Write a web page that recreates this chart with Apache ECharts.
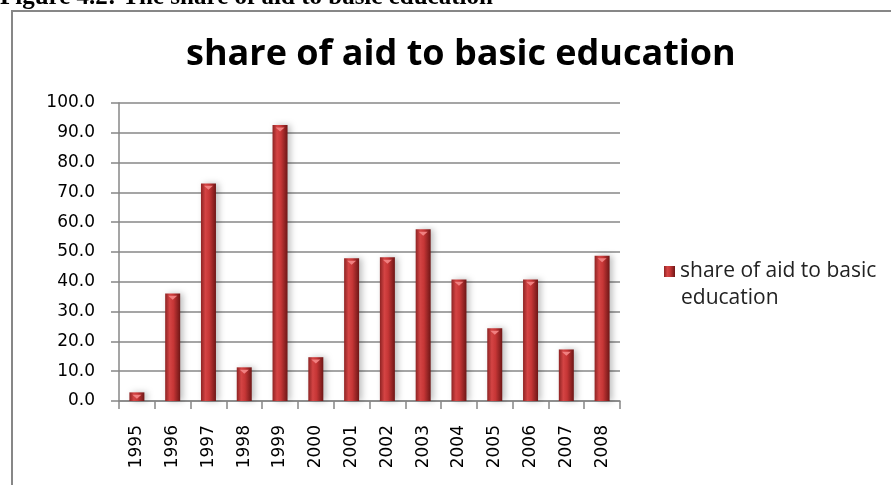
<!DOCTYPE html>
<html>
<head>
    <meta charset="utf-8"/>
    <script src="https://cdn.jsdelivr.net/npm/echarts@6/dist/echarts.min.js"></script>
    <style>
        body { margin: 0; background: #fff; }
    </style>
</head>
<body>
<div id="main" style="width: 891px;height:485px;"></div>
<script type="text/javascript">
    var myChart = echarts.init(document.getElementById('main'));

    // data
    var years = ['1995', '1996', '1997', '1998', '1999', '2000', '2001',
        '2002', '2003', '2004', '2005', '2006', '2007', '2008'];
    var shareValues = [2.9, 36.1, 73.0, 11.3, 92.6, 14.7, 47.9,
        48.2, 57.6, 40.8, 24.4, 40.8, 17.3, 48.7];
    var yTicks = [0, 10, 20, 30, 40, 50, 60, 70, 80, 90, 100];
    var seriesName = 'share of aid to basic education';

    var barColor = new echarts.graphic.LinearGradient(0, 0, 1, 0, [
        {offset: 0, color: '#8e2323'},
        {offset: 0.3, color: '#d44444'},
        {offset: 0.55, color: '#c63636'},
        {offset: 1, color: '#6e1616'}
    ]);

    var option = {
        animation: false,
        textStyle: {fontFamily: 'DejaVu Sans'},
        graphic: [
            {
                type: 'text', left: 0, top: -15,
                style: {text: 'Figure 4.2: The share of aid to basic education',
                    font: 'bold 25px "Liberation Serif"', fill: '#000'}
            },
            {
                type: 'polyline',
                shape: {points: [[12, 485], [12, 11], [891, 11]]},
                style: {stroke: '#878787', lineWidth: 2, fill: null}
            },
            {
                // second line of the legend label
                type: 'text', left: 681, top: 288,
                style: {text: 'education', font: '21px "Open Sans"', fill: '#222'}
            }
        ],
        title: {
            text: 'share of aid to basic education',
            left: 181,
            top: 32,
            textStyle: {fontFamily: 'Open Sans', fontWeight: 'bold', fontSize: 36, color: '#000'}
        },
        legend: {
            data: [seriesName],
            left: 659,
            top: 256,
            itemWidth: 11,
            itemHeight: 11,
            itemGap: 10,
            icon: 'rect',
            formatter: function (name) {
                return 'share of aid to basic';
            },
            textStyle: {fontFamily: 'Open Sans', fontSize: 21, color: '#222'}
        },
        grid: {left: 119, right: 271, top: 103, bottom: 84},
        xAxis: {
            type: 'category',
            data: years,
            axisLine: {lineStyle: {color: '#878787', width: 1.5}},
            axisTick: {show: true, length: 8, lineStyle: {color: '#878787', width: 1.5}},
            axisLabel: {rotate: 90, margin: 24, fontSize: 17, color: '#000', fontFamily: 'DejaVu Sans'}
        },
        yAxis: {
            type: 'value',
            min: 0,
            max: 100,
            interval: 10,
            axisLine: {show: true, lineStyle: {color: '#878787', width: 1.5}},
            axisTick: {show: true, length: 8, lineStyle: {color: '#878787', width: 1.5}},
            splitLine: {lineStyle: {color: '#878787', width: 1.5}},
            axisLabel: {
                margin: 24, fontSize: 17, color: '#000', fontFamily: 'DejaVu Sans',
                formatter: function (v) { return yTicks.indexOf(v) >= 0 ? v.toFixed(1) : ''; }
            }
        },
        series: [
            {
                name: seriesName,
                type: 'bar',
                data: shareValues,
                barWidth: 15,
                itemStyle: {
                    color: barColor,
                    shadowColor: 'rgba(0,0,0,0.25)',
                    shadowBlur: 6,
                    shadowOffsetX: 3
                }
            },
            {
                name: 'cap',
                type: 'pictorialBar',
                data: shareValues,
                symbol: 'triangle',
                symbolRotate: 180,
                symbolSize: [9, 4],
                symbolPosition: 'end',
                symbolOffset: [0, '60%'],
                barGap: '-100%',
                itemStyle: {color: '#f08080'},
                silent: true,
                z: 3
            }
        ]
    };

    myChart.setOption(option);
</script>
</body>
</html>
